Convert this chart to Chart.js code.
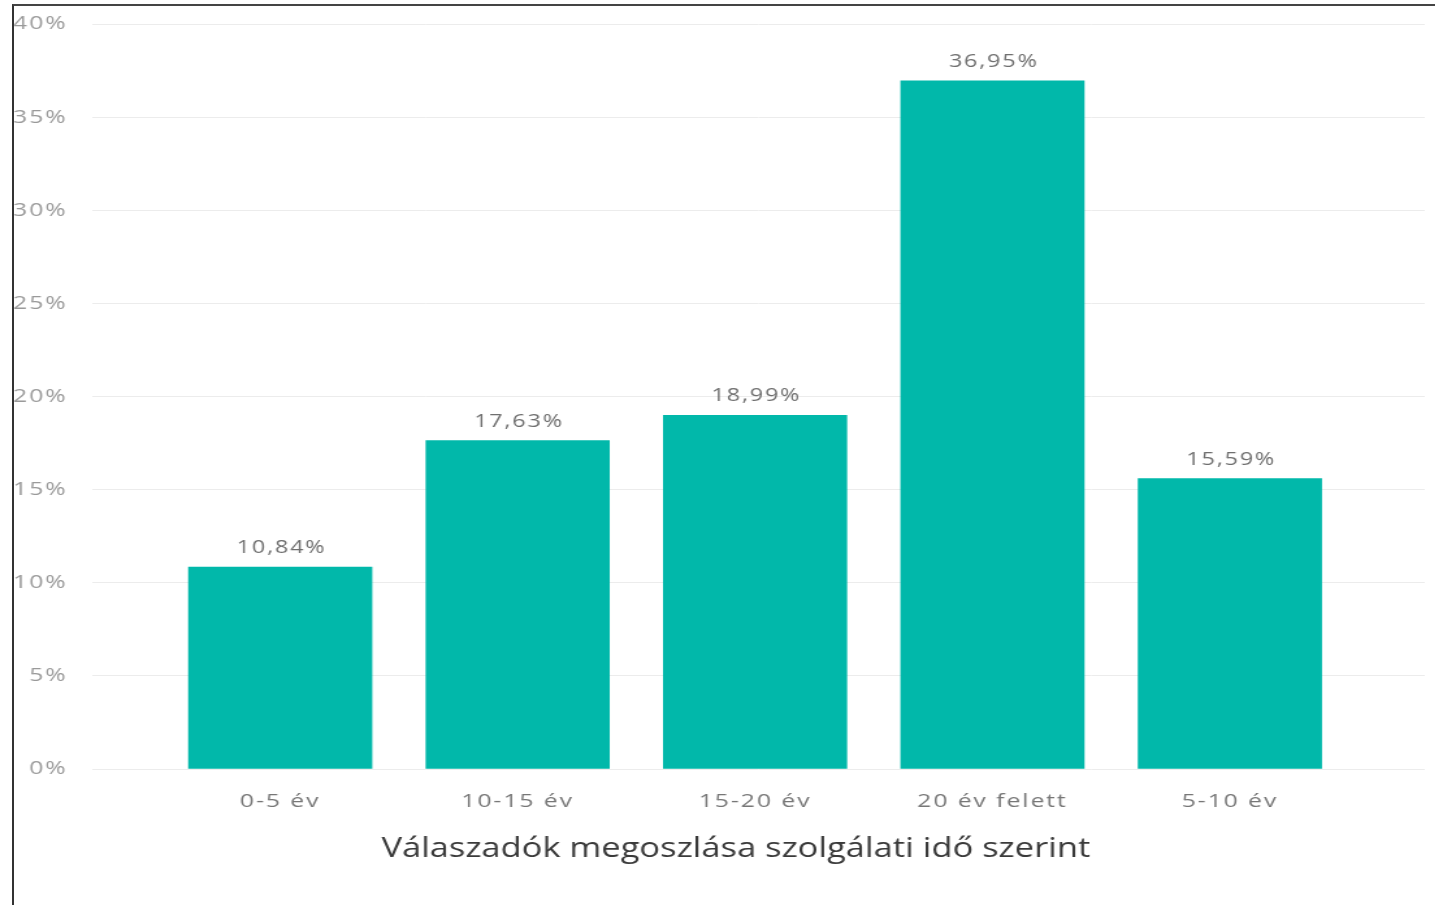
<!DOCTYPE html>
<html>
<head>
<meta charset="utf-8">
<script src="https://cdn.jsdelivr.net/npm/chart.js@4.4.1/dist/chart.umd.min.js"></script>
<style>
  html, body { margin: 0; padding: 0; background: #fff; }
  .wrap { position: relative; width: 1435px; height: 905px; overflow: hidden; }
  /* the original screenshot is stretched horizontally, so stretch the canvas the same way */
  canvas { position: absolute; left: 0; top: 0; transform: scaleX(1.3); transform-origin: 0 0; }
  .frame { position: absolute; left: 12px; top: 4px; width: 1430px; height: 910px;
           border-left: 2px solid #333; border-top: 2px solid #444; pointer-events: none; }
</style>
</head>
<body>
<div class="wrap">
  <canvas id="chart" width="1104" height="905"></canvas>
  <div class="frame"></div>
</div>
<script>
const categories = ['0-5 év', '10-15 év', '15-20 év', '20 év felett', '5-10 év'];
const shares = [10.84, 17.63, 18.99, 36.95, 15.59];
const yTicks = [0, 5, 10, 15, 20, 25, 30, 35, 40];
const axisTitle = 'Válaszadók megoszlása szolgálati idő szerint';

const fmt = v => v.toFixed(2).replace('.', ',') + '%';

const spacing = {
  id: 'spacing',
  beforeDraw(chart) { chart.ctx.letterSpacing = '1.5px'; }
};

// value labels above each bar + axis caption underneath
const barLabels = {
  id: 'barLabels',
  afterDraw(chart) {
    const ctx = chart.ctx;
    const meta = chart.getDatasetMeta(0);
    ctx.save();
    ctx.letterSpacing = '1.4px';
    ctx.font = '18px "Open Sans"';
    ctx.fillStyle = '#6f6f6f';
    ctx.textAlign = 'center';
    ctx.textBaseline = 'middle';
    meta.data.forEach((bar, i) => {
      ctx.fillText(fmt(shares[i]), bar.x + 1, bar.y - 19);
    });
    ctx.letterSpacing = '0px';
    ctx.font = '26.5px "Open Sans"';
    ctx.fillStyle = '#3a3a3a';
    ctx.fillText(axisTitle, 566, 849);
    ctx.restore();
  }
};

new Chart(document.getElementById('chart'), {
  type: 'bar',
  data: {
    datasets: [{
      data: shares.map((v, i) => ({ x: i, y: v })),
      backgroundColor: '#01B8AA',
      barThickness: 141,
    }]
  },
  options: {
    responsive: false,
    animation: false,
    layout: { padding: { left: 9, right: 8, top: 24, bottom: 0 } },
    plugins: { legend: { display: false }, tooltip: { enabled: false } },
    scales: {
      x: {
        type: 'linear',
        offset: false,
        min: -0.7916,
        max: 4.821,
        afterBuildTicks: axis => { axis.ticks = categories.map((c, i) => ({ value: i })); },
        afterFit: axis => { axis.height = 136; },
        grid: { display: false, offset: false },
        border: { display: false },
        ticks: {
          callback: v => categories[v],
          color: '#777',
          font: { family: 'Open Sans', size: 19 },
          padding: 13,
          maxRotation: 0,
          autoSkip: false
        }
      },
      y: {
        min: 0,
        max: 40,
        afterBuildTicks: axis => { axis.ticks = yTicks.map(v => ({ value: v })); },
        afterFit: axis => { axis.width = 62; axis.paddingTop = 0; axis.paddingBottom = 0; },
        grid: { color: '#ececec', lineWidth: 1, drawTicks: false },
        border: { display: false },
        ticks: {
          callback: v => v + '%',
          color: '#9a9a9a',
          font: { family: 'Open Sans', size: 19 },
          crossAlign: 'near',
          padding: 19
        }
      }
    }
  },
  plugins: [spacing, barLabels]
});
</script>
</body>
</html>
